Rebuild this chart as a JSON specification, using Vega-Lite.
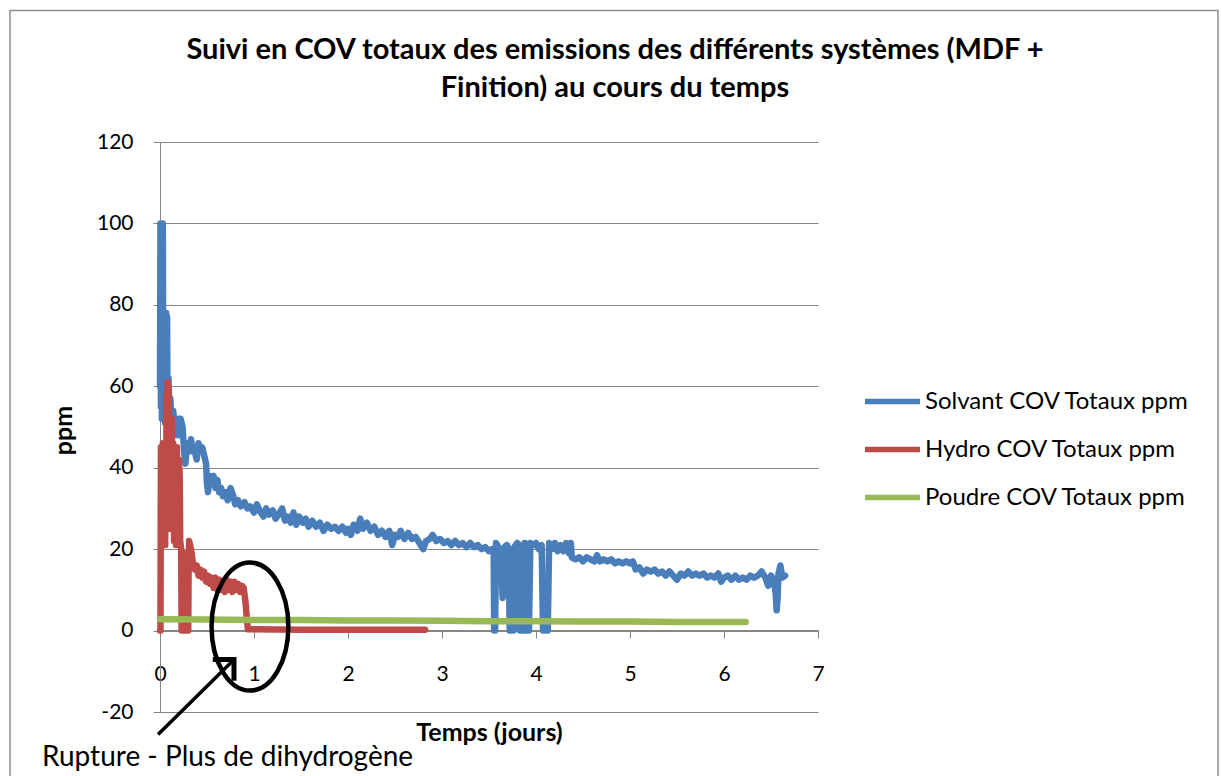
{
"$schema":"https://vega.github.io/schema/vega-lite/v6.json",
"autosize":{"type":"none"},
"padding":{"left":160,"top":142,"right":403,"bottom":64},
"width":658,"height":570,
"background":"white",
"config":{"font":"Lato","view":{"stroke":null},"legend":{"labelColor":"#000000"}},
"title":{"text":["Suivi en COV totaux des emissions des différents systèmes (MDF +","Finition) au cours du temps"],"fontSize":29,"fontWeight":"bold","color":"#000000","anchor":"middle","frame":"group","dx":126,"offset":-93,"lineHeight":38,"font":"Lato"},
"layer":[
{"data":{"values":[{"a":-1.596,"b":11.255,"c":152.3,"d":-39.3}]},
 "mark":{"type":"rect","fill":null,"stroke":"#8c8c8c","strokeWidth":1.5,"clip":false},
 "encoding":{"x":{"field":"a","type":"quantitative","scale":{"domain":[0,7],"nice":false,"zero":false},
   "axis":{"title":"Temps (jours)","offset":-82,"values":[0,1,2,3,4,5,6,7],"labelExpr":"toString(datum.value)","grid":false,"tickSize":8,"tickColor":"#868686","domainColor":"#868686","labelFontSize":21,"labelColor":"#000000","labelPadding":25,"titleFontSize":25,"titleFontWeight":"bold","titleColor":"#000000","titlePadding":36,"labelFlush":false}},
  "x2":{"field":"b"},
  "y":{"field":"c","type":"quantitative","scale":{"domain":[-20,120],"nice":false,"zero":false},
   "axis":{"title":"ppm","values":[-20,0,20,40,60,80,100,120],"labelExpr":"toString(datum.value)","grid":true,"gridColor":"#868686","gridWidth":1,"tickSize":7,"tickColor":"#868686","domainColor":"#868686","labelFontSize":21,"labelColor":"#000000","labelPadding":20,"titleFontSize":25,"titleFontWeight":"bold","titleColor":"#000000","titlePadding":20,"titleY":288}},
  "y2":{"field":"d"}}},
{"data":{"values":[{"t":0,"v":60},{"t":0.005,"v":100},{"t":0.01,"v":55},{"t":0.015,"v":98},{"t":0.02,"v":52},{"t":0.025,"v":90},{"t":0.03,"v":100},{"t":0.035,"v":56},{"t":0.045,"v":62},{"t":0.055,"v":51},{"t":0.06,"v":75},{"t":0.065,"v":78},{"t":0.07,"v":60},{"t":0.075,"v":77},{"t":0.08,"v":55},{"t":0.09,"v":62},{"t":0.1,"v":54},{"t":0.11,"v":57},{"t":0.12,"v":52},{"t":0.14,"v":54},{"t":0.16,"v":50},{"t":0.18,"v":48},{"t":0.2,"v":52},{"t":0.21,"v":48},{"t":0.22,"v":52},{"t":0.24,"v":50},{"t":0.26,"v":43},{"t":0.27,"v":41},{"t":0.29,"v":46},{"t":0.31,"v":44},{"t":0.33,"v":47},{"t":0.35,"v":44},{"t":0.37,"v":44},{"t":0.39,"v":42},{"t":0.41,"v":46},{"t":0.43,"v":44},{"t":0.45,"v":45},{"t":0.47,"v":43},{"t":0.49,"v":41},{"t":0.5,"v":36},{"t":0.51,"v":34},{"t":0.53,"v":38},{"t":0.55,"v":36},{"t":0.57,"v":38},{"t":0.59,"v":35},{"t":0.61,"v":37},{"t":0.63,"v":34},{"t":0.65,"v":35},{"t":0.67,"v":33},{"t":0.7,"v":34},{"t":0.72,"v":32},{"t":0.75,"v":35},{"t":0.78,"v":33},{"t":0.8,"v":31},{"t":0.83,"v":32},{"t":0.86,"v":30.5},{"t":0.9,"v":31.5},{"t":0.93,"v":30},{"t":0.96,"v":30.5},{"t":1.0,"v":29},{"t":1.03,"v":31},{"t":1.06,"v":29.5},{"t":1.1,"v":28},{"t":1.13,"v":30},{"t":1.16,"v":28.5},{"t":1.2,"v":29.5},{"t":1.23,"v":27.5},{"t":1.26,"v":28.5},{"t":1.3,"v":30},{"t":1.33,"v":27},{"t":1.36,"v":28},{"t":1.39,"v":26.5},{"t":1.42,"v":29},{"t":1.45,"v":26},{"t":1.48,"v":28},{"t":1.52,"v":26.5},{"t":1.55,"v":27.5},{"t":1.58,"v":25.5},{"t":1.62,"v":27},{"t":1.66,"v":25.5},{"t":1.7,"v":26.5},{"t":1.74,"v":24.5},{"t":1.78,"v":26},{"t":1.82,"v":25},{"t":1.86,"v":25.5},{"t":1.9,"v":24.5},{"t":1.94,"v":25.5},{"t":1.98,"v":24},{"t":2.0,"v":25},{"t":2.03,"v":23.5},{"t":2.06,"v":26},{"t":2.1,"v":24.5},{"t":2.13,"v":27.5},{"t":2.16,"v":25},{"t":2.2,"v":26.5},{"t":2.24,"v":24.5},{"t":2.28,"v":25.5},{"t":2.32,"v":23.5},{"t":2.36,"v":24.5},{"t":2.4,"v":23},{"t":2.44,"v":24.5},{"t":2.47,"v":21},{"t":2.5,"v":23.5},{"t":2.53,"v":23},{"t":2.56,"v":24.5},{"t":2.6,"v":22.5},{"t":2.64,"v":24},{"t":2.68,"v":22.5},{"t":2.72,"v":23},{"t":2.76,"v":21.5},{"t":2.8,"v":20},{"t":2.83,"v":22},{"t":2.87,"v":22.5},{"t":2.9,"v":23.5},{"t":2.94,"v":22},{"t":2.98,"v":22.5},{"t":3.02,"v":21.5},{"t":3.06,"v":22},{"t":3.1,"v":21},{"t":3.14,"v":22},{"t":3.18,"v":21},{"t":3.22,"v":21.5},{"t":3.26,"v":20.5},{"t":3.3,"v":21.5},{"t":3.34,"v":20.5},{"t":3.38,"v":21},{"t":3.42,"v":20},{"t":3.46,"v":20.5},{"t":3.5,"v":19.5},{"t":3.53,"v":20},{"t":3.55,"v":19},{"t":3.555,"v":0},{"t":3.565,"v":0},{"t":3.575,"v":21.5},{"t":3.6,"v":20.5},{"t":3.63,"v":19},{"t":3.645,"v":8},{"t":3.655,"v":10},{"t":3.665,"v":20.5},{"t":3.69,"v":21},{"t":3.71,"v":20},{"t":3.72,"v":0},{"t":3.73,"v":0},{"t":3.75,"v":0},{"t":3.76,"v":0},{"t":3.77,"v":20.5},{"t":3.8,"v":21.5},{"t":3.82,"v":21},{"t":3.83,"v":0},{"t":3.85,"v":0},{"t":3.87,"v":0},{"t":3.88,"v":21.5},{"t":3.895,"v":0},{"t":3.91,"v":0},{"t":3.925,"v":0},{"t":3.94,"v":21.5},{"t":3.97,"v":21},{"t":4.0,"v":21.5},{"t":4.03,"v":20},{"t":4.06,"v":21},{"t":4.075,"v":0},{"t":4.09,"v":0},{"t":4.11,"v":0},{"t":4.125,"v":0},{"t":4.14,"v":21.5},{"t":4.17,"v":20},{"t":4.2,"v":21.5},{"t":4.23,"v":19.5},{"t":4.26,"v":21},{"t":4.29,"v":19.5},{"t":4.32,"v":21.5},{"t":4.35,"v":19},{"t":4.37,"v":21.5},{"t":4.38,"v":18},{"t":4.42,"v":17.5},{"t":4.46,"v":18},{"t":4.5,"v":17},{"t":4.54,"v":18},{"t":4.58,"v":17.5},{"t":4.62,"v":17},{"t":4.65,"v":18.5},{"t":4.68,"v":17},{"t":4.72,"v":17.5},{"t":4.76,"v":17},{"t":4.8,"v":17.5},{"t":4.84,"v":16.5},{"t":4.88,"v":17},{"t":4.92,"v":16.5},{"t":4.96,"v":17},{"t":5.0,"v":16.5},{"t":5.03,"v":17},{"t":5.06,"v":15},{"t":5.1,"v":15.5},{"t":5.14,"v":14},{"t":5.18,"v":15},{"t":5.22,"v":14.5},{"t":5.26,"v":15},{"t":5.3,"v":14},{"t":5.34,"v":14.5},{"t":5.38,"v":13.5},{"t":5.42,"v":14.5},{"t":5.46,"v":13.5},{"t":5.5,"v":12.5},{"t":5.54,"v":14},{"t":5.58,"v":13.5},{"t":5.62,"v":14.5},{"t":5.66,"v":13.5},{"t":5.7,"v":14},{"t":5.74,"v":13.5},{"t":5.78,"v":14},{"t":5.82,"v":13},{"t":5.86,"v":13.5},{"t":5.9,"v":13},{"t":5.94,"v":14},{"t":5.97,"v":12},{"t":6.0,"v":13},{"t":6.04,"v":13.5},{"t":6.08,"v":12.5},{"t":6.12,"v":13.5},{"t":6.16,"v":12.5},{"t":6.2,"v":13},{"t":6.24,"v":12.5},{"t":6.28,"v":13.5},{"t":6.32,"v":13},{"t":6.36,"v":13.5},{"t":6.4,"v":14.5},{"t":6.44,"v":13},{"t":6.47,"v":11},{"t":6.5,"v":13.5},{"t":6.53,"v":12.5},{"t":6.55,"v":9},{"t":6.56,"v":5},{"t":6.57,"v":8},{"t":6.58,"v":14},{"t":6.6,"v":16},{"t":6.62,"v":13},{"t":6.65,"v":13.5}]},
 "mark":{"type":"line","strokeWidth":6.5,"strokeCap":"round","strokeJoin":"round"},
 "encoding":{"x":{"field":"t","type":"quantitative"},"y":{"field":"v","type":"quantitative"},
  "color":{"datum":"Solvant COV Totaux ppm","type":"nominal","scale":{"domain":["Solvant COV Totaux ppm","Hydro COV Totaux ppm","Poudre COV Totaux ppm"],"range":["#4A7EBB","#BE4B48","#98B954"]},
   "legend":{"title":null,"orient":"none","legendX":702,"legendY":229,"symbolType":"stroke","symbolSize":3025,"symbolStrokeWidth":5.5,"labelFontSize":24,"labelOffset":2,"rowPadding":5,"labelLimit":400}}}},
{"data":{"values":[{"t":0,"v":0},{"t":0.005,"v":0},{"t":0.01,"v":45},{"t":0.015,"v":25},{"t":0.02,"v":44},{"t":0.025,"v":22},{"t":0.03,"v":46},{"t":0.035,"v":28},{"t":0.04,"v":45},{"t":0.045,"v":22},{"t":0.05,"v":40},{"t":0.055,"v":21},{"t":0.06,"v":45},{"t":0.065,"v":30},{"t":0.07,"v":58},{"t":0.075,"v":45},{"t":0.08,"v":61},{"t":0.085,"v":40},{"t":0.09,"v":60},{"t":0.095,"v":28},{"t":0.1,"v":50},{"t":0.105,"v":25},{"t":0.11,"v":46},{"t":0.12,"v":30},{"t":0.125,"v":52},{"t":0.13,"v":35},{"t":0.14,"v":46},{"t":0.15,"v":22},{"t":0.16,"v":44},{"t":0.17,"v":21},{"t":0.18,"v":45},{"t":0.19,"v":24},{"t":0.2,"v":42},{"t":0.21,"v":38},{"t":0.215,"v":22},{"t":0.225,"v":20},{"t":0.23,"v":0},{"t":0.24,"v":0},{"t":0.25,"v":18},{"t":0.26,"v":0},{"t":0.27,"v":0},{"t":0.28,"v":19},{"t":0.29,"v":0},{"t":0.3,"v":0},{"t":0.305,"v":17},{"t":0.31,"v":22},{"t":0.33,"v":20},{"t":0.35,"v":16.5},{"t":0.37,"v":15},{"t":0.39,"v":16},{"t":0.41,"v":13.5},{"t":0.43,"v":15},{"t":0.45,"v":13},{"t":0.47,"v":14.5},{"t":0.49,"v":12},{"t":0.51,"v":13.5},{"t":0.53,"v":11.5},{"t":0.55,"v":13},{"t":0.57,"v":10.5},{"t":0.59,"v":13},{"t":0.61,"v":10},{"t":0.63,"v":12.5},{"t":0.65,"v":10},{"t":0.67,"v":12},{"t":0.69,"v":9.5},{"t":0.71,"v":12.5},{"t":0.73,"v":10},{"t":0.75,"v":12},{"t":0.77,"v":9.5},{"t":0.79,"v":12},{"t":0.81,"v":10},{"t":0.83,"v":11.5},{"t":0.85,"v":9.5},{"t":0.87,"v":11},{"t":0.89,"v":10.5},{"t":0.91,"v":7},{"t":0.92,"v":4},{"t":0.935,"v":0.3},{"t":1.0,"v":0.3},{"t":1.5,"v":0.2},{"t":2.0,"v":0.2},{"t":2.5,"v":0.2},{"t":2.82,"v":0.2}]},
 "mark":{"type":"line","strokeWidth":6.5,"strokeCap":"round","strokeJoin":"round"},
 "encoding":{"x":{"field":"t","type":"quantitative"},"y":{"field":"v","type":"quantitative"},"color":{"datum":"Hydro COV Totaux ppm","type":"nominal"}}},
{"data":{"values":[{"t":0,"v":2.8},{"t":0.5,"v":2.7},{"t":1,"v":2.6},{"t":1.5,"v":2.6},{"t":2,"v":2.5},{"t":2.5,"v":2.5},{"t":3,"v":2.4},{"t":3.5,"v":2.3},{"t":4,"v":2.3},{"t":4.5,"v":2.2},{"t":5,"v":2.2},{"t":5.5,"v":2.1},{"t":6,"v":2.1},{"t":6.23,"v":2.1}]},
 "mark":{"type":"line","strokeWidth":6.5,"strokeCap":"round","strokeJoin":"round"},
 "encoding":{"x":{"field":"t","type":"quantitative"},"y":{"field":"v","type":"quantitative"},"color":{"datum":"Poudre COV Totaux ppm","type":"nominal"}}},
{"data":{"values":[{"t":0.957,"v":0.98}]},
 "mark":{"type":"point","shape":"M 0.6,0 C 0.6,0.5523 0.3314,1 0,1 C -0.3314,1 -0.6,0.5523 -0.6,0 C -0.6,-0.5523 -0.3314,-1 0,-1 C 0.3314,-1 0.6,-0.5523 0.6,0 Z","size":16384,"filled":false,"stroke":"#000000","strokeWidth":4.5,"opacity":1,"clip":false},
 "encoding":{"x":{"field":"t","type":"quantitative"},"y":{"field":"v","type":"quantitative"}}},
{"data":{"values":[{"t":-0.021,"v":-25.5},{"t":0.78,"v":-7.3}]},
 "mark":{"type":"line","color":"#000000","strokeWidth":3.5,"clip":false},
 "encoding":{"x":{"field":"t","type":"quantitative"},"y":{"field":"v","type":"quantitative"}}},
{"data":{"values":[{"t":0.787,"v":-7.12}]},
 "mark":{"type":"point","shape":"M -0.75,0.75 L 0,0 L 0.75,0.75","size":1600,"angle":45,"filled":false,"stroke":"#000000","strokeWidth":5,"opacity":1,"clip":false},
 "encoding":{"x":{"field":"t","type":"quantitative"},"y":{"field":"v","type":"quantitative"}}},
{"data":{"values":[{"t":-1.255,"v":-33.2,"txt":"Rupture - Plus de dihydrogène"}]},
 "mark":{"type":"text","align":"left","baseline":"alphabetic","fontSize":28,"color":"#000000","clip":false},
 "encoding":{"x":{"field":"t","type":"quantitative"},"y":{"field":"v","type":"quantitative"},"text":{"field":"txt"}}}
]
}
